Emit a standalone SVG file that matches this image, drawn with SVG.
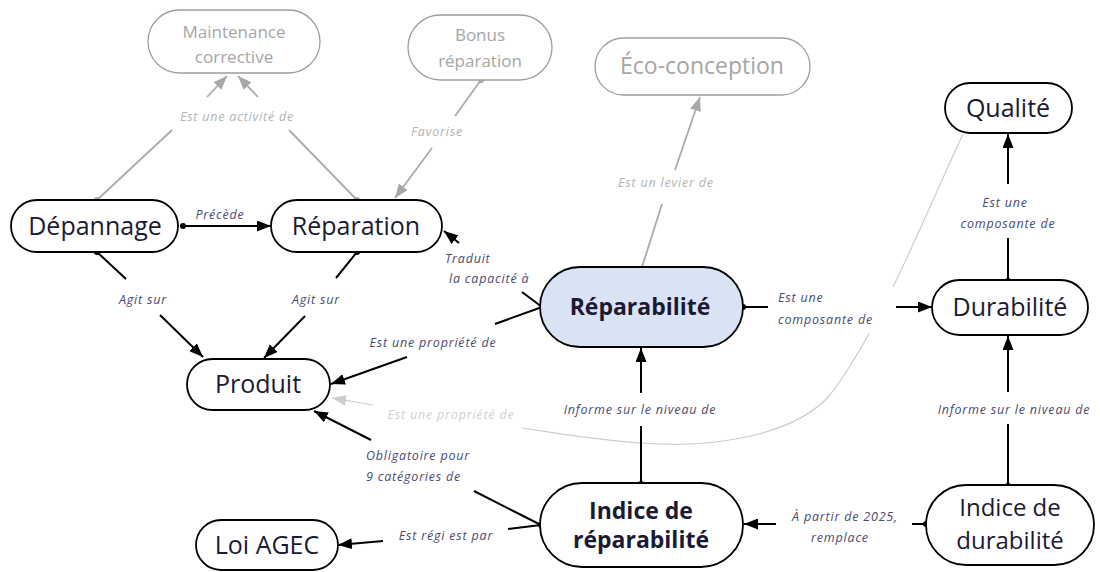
<svg xmlns="http://www.w3.org/2000/svg" width="1100" height="572" viewBox="0 0 1100 572">
<style>
.node{fill:#fff;stroke:#000;stroke-width:1.8}
.nodeg{fill:#fff;stroke:#9e9e9e;stroke-width:1.3}
.nodeb{fill:#dae3f3;stroke:#000;stroke-width:1.8}
.t{font-family:"Open Sans","Liberation Sans",sans-serif;font-size:25px;fill:#1a1a33;text-anchor:middle}
.tb{font-family:"Open Sans","Liberation Sans",sans-serif;font-size:23px;font-weight:bold;fill:#1a1a33;text-anchor:middle}
.tg{font-family:"Open Sans","Liberation Sans",sans-serif;font-size:17px;fill:#a6a6a6;text-anchor:middle}
.l{font-family:"Open Sans","Liberation Sans",sans-serif;font-size:12.5px;font-style:italic;fill:#4a4a6e;letter-spacing:0.8px;text-anchor:middle}
.ls{text-anchor:start}
.lg{fill:#b3b3b3}
.lgg{fill:#cfcfcf}
.c{fill:none;stroke:#000;stroke-width:2}
.cg{fill:none;stroke:#ababab;stroke-width:1.8}
.cc{fill:none;stroke:#cdcdcd;stroke-width:1.2}
</style>
<defs>
<marker id="ah" markerWidth="14" markerHeight="11" refX="14" refY="5.5" orient="auto" markerUnits="userSpaceOnUse"><path d="M0,0 L14,5.5 L0,11 z" fill="#000"/></marker>
<marker id="ahg" markerWidth="14" markerHeight="11" refX="14" refY="5.5" orient="auto" markerUnits="userSpaceOnUse"><path d="M0,0 L14,5.5 L0,11 z" fill="#a8a8a8"/></marker>
<marker id="ahl" markerWidth="14" markerHeight="11" refX="14" refY="5.5" orient="auto" markerUnits="userSpaceOnUse"><path d="M0,0 L14,5.5 L0,11 z" fill="#cdcdcd"/></marker>
<marker id="dot" markerWidth="8" markerHeight="8" refX="4" refY="4" markerUnits="userSpaceOnUse"><circle cx="4" cy="4" r="3" fill="#000"/></marker>
<marker id="dotg" markerWidth="8" markerHeight="8" refX="4" refY="4" markerUnits="userSpaceOnUse"><circle cx="4" cy="4" r="3" fill="#a8a8a8"/></marker>
</defs>
<rect width="1100" height="572" fill="#fff"/>

<g id="connectors">
  <!-- Qualité -> Produit (light grey curve) -->
  <path class="cc" d="M963,134 C925,215 880,330 830,395 C790,440 700,448 640,443 C590,439 550,432 522,428"/>
  <path class="cc" d="M373,405 L332,398" marker-end="url(#ahl)"/>
  <text class="l lgg" x="451" y="419">Est une propriété de</text>

  <!-- Dépannage -> Maintenance corrective -->
  <path class="cg" d="M97,200 L172,130" marker-start="url(#dotg)"/>
  <path class="cg" d="M207,97 L227,76" marker-end="url(#ahg)"/>
  <!-- Réparation -> Maintenance corrective -->
  <path class="cg" d="M357,200 L289,130" marker-start="url(#dotg)"/>
  <path class="cg" d="M258,97 L238,76" marker-end="url(#ahg)"/>
  <text class="l lg" x="237" y="121">Est une activité de</text>

  <!-- Bonus réparation -> Réparation -->
  <path class="cg" d="M481,80 L455,116" marker-start="url(#dotg)"/>
  <path class="cg" d="M432,148 L395,198" marker-end="url(#ahg)"/>
  <text class="l lg" x="437" y="136">Favorise</text>

  <!-- Réparabilité -> Éco-conception -->
  <path class="cg" d="M642,267 L662,204"/>
  <path class="cg" d="M675,170 L700,97" marker-end="url(#ahg)"/>
  <text class="l lg" x="666" y="187">Est un levier de</text>

  <!-- Dépannage -> Réparation -->
  <path class="c" d="M183,226 L271,226" marker-start="url(#dot)" marker-end="url(#ah)"/>
  <text class="l" x="220" y="219">Précède</text>

  <!-- Dépannage -> Produit -->
  <path class="c" d="M97,252 L126,279" marker-start="url(#dot)"/>
  <path class="c" d="M160,315 L203,357" marker-end="url(#ah)"/>
  <text class="l" x="143" y="304">Agit sur</text>

  <!-- Réparation -> Produit -->
  <path class="c" d="M357,252 L336,278" marker-start="url(#dot)"/>
  <path class="c" d="M305,316 L264,358" marker-end="url(#ah)"/>
  <text class="l" x="316" y="304">Agit sur</text>

  <!-- Réparabilité -> Réparation -->
  <path class="c" d="M542,307 L522,292"/>
  <path class="c" d="M459,243 L444,231" marker-end="url(#ah)"/>
  <text class="l ls" x="445" y="263">Traduit</text>
  <text class="l ls" x="449" y="283">la capacité à</text>

  <!-- Réparabilité -> Produit -->
  <path class="c" d="M542,307 L495,324"/>
  <path class="c" d="M407,357 L331,384" marker-end="url(#ah)"/>
  <text class="l" x="433" y="347">Est une propriété de</text>

  <!-- Réparabilité -> Durabilité -->
  <rect x="772" y="287" width="124" height="46" fill="#fff"/>
  <path class="c" d="M743,307 L768,307" marker-start="url(#dot)"/>
  <path class="c" d="M896,307 L932,307" marker-end="url(#ah)"/>
  <text class="l ls" x="778" y="302">Est une</text>
  <text class="l ls" x="778" y="324">composante de</text>

  <!-- Durabilité -> Qualité -->
  <path class="c" d="M1008,281 L1008,238" marker-start="url(#dot)"/>
  <path class="c" d="M1008,184 L1008,134" marker-end="url(#ah)"/>
  <text class="l" x="1005" y="207">Est une</text>
  <text class="l" x="1008" y="228">composante de</text>

  <!-- Indice de réparabilité -> Réparabilité -->
  <path class="c" d="M641,484 L641,426" marker-start="url(#dot)"/>
  <path class="c" d="M641,393 L641,348" marker-end="url(#ah)"/>
  <text class="l" x="640" y="414">Informe sur le niveau de</text>

  <!-- Indice de durabilité -> Durabilité -->
  <path class="c" d="M1008,486 L1008,424" marker-start="url(#dot)"/>
  <path class="c" d="M1008,392 L1008,336" marker-end="url(#ah)"/>
  <text class="l" x="1014" y="414">Informe sur le niveau de</text>

  <!-- Indice de réparabilité -> Produit -->
  <path class="c" d="M541,525 L474,491" marker-start="url(#dot)"/>
  <path class="c" d="M371,440 L314,411" marker-end="url(#ah)"/>
  <text class="l ls" x="366" y="460">Obligatoire pour</text>
  <text class="l ls" x="366" y="481">9 catégories de</text>

  <!-- Indice de réparabilité -> Loi AGEC -->
  <path class="c" d="M541,525 L508,529"/>
  <path class="c" d="M383,541 L338,545" marker-end="url(#ah)"/>
  <text class="l" x="446" y="540">Est régi est par</text>

  <!-- Indice de durabilité -> Indice de réparabilité -->
  <path class="c" d="M926,524 L912,524" marker-start="url(#dot)"/>
  <path class="c" d="M776,524 L744,524" marker-end="url(#ah)"/>
  <text class="l" x="845" y="521">À partir de 2025,</text>
  <text class="l" x="840" y="542">remplace</text>
</g>

<g id="maintenance-corrective">
  <rect class="nodeg" x="148" y="10" width="172" height="63" rx="31.5"/>
  <text class="tg" x="234" y="38">Maintenance</text>
  <text class="tg" x="234" y="63">corrective</text>
</g>
<g id="bonus-reparation">
  <rect class="nodeg" x="408" y="15" width="144" height="65" rx="32.5"/>
  <text class="tg" x="480" y="41">Bonus</text>
  <text class="tg" x="480" y="67">réparation</text>
</g>
<g id="eco-conception">
  <rect class="nodeg" x="595" y="38" width="215" height="57" rx="28.5"/>
  <text class="tg" x="702" y="74" style="font-size:23px">Éco-conception</text>
</g>
<g id="qualite">
  <rect class="node" x="945" y="83" width="127" height="50" rx="25"/>
  <text class="t" x="1008" y="117">Qualité</text>
</g>
<g id="depannage">
  <rect class="node" x="11" y="200" width="167" height="52" rx="26"/>
  <text class="t" x="95" y="235">Dépannage</text>
</g>
<g id="reparation">
  <rect class="node" x="271" y="200" width="171" height="52" rx="26"/>
  <text class="t" x="356" y="235">Réparation</text>
</g>
<g id="reparabilite">
  <rect class="nodeb" x="540" y="267" width="203" height="80" rx="40"/>
  <text class="tb" x="640" y="315">Réparabilité</text>
</g>
<g id="durabilite">
  <rect class="node" x="932" y="280" width="156" height="55" rx="27.5"/>
  <text class="t" x="1010" y="316">Durabilité</text>
</g>
<g id="produit">
  <rect class="node" x="187" y="359" width="143" height="51" rx="25.5"/>
  <text class="t" x="258" y="393">Produit</text>
</g>
<g id="indice-reparabilite">
  <rect class="node" x="540" y="483" width="203" height="84" rx="42"/>
  <text class="tb" x="641" y="519">Indice de</text>
  <text class="tb" x="641" y="548">réparabilité</text>
</g>
<g id="indice-durabilite">
  <rect class="node" x="926" y="485" width="168" height="80" rx="40"/>
  <text class="t" x="1010" y="516" style="font-size:24px">Indice de</text>
  <text class="t" x="1010" y="549" style="font-size:24px">durabilité</text>
</g>
<g id="loi-agec">
  <rect class="node" x="196" y="520" width="142" height="50" rx="25"/>
  <text class="t" x="267" y="554">Loi AGEC</text>
</g>
</svg>
